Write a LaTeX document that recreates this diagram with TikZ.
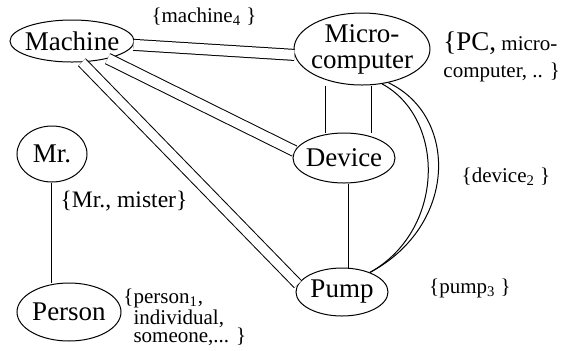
\documentclass[tikz,border=0pt]{standalone}
\usepackage{fontspec}
\setmainfont{Liberation Serif}
\usetikzlibrary{shapes}
\tikzset{%
  term/.style  = {draw, ellipse, align=center, inner xsep=-3pt, inner ysep=-1pt,
    font=\fontsize{13.5}{13}\selectfont}, % word
  gloss/.style = {inner sep=0pt, align=left,
    font=\fontsize{10.5}{9}\selectfont}, % synonym set
  syn/.style   = {double, double distance=5pt} % synonym link
}

\begin{document}
\begin{tikzpicture}[x=0.5pt, y=-0.5pt, line width=0.5pt]
  \useasboundingbox (0,0) rectangle (570,350);

  \draw node at (72,41) [term, minimum width=62pt, minimum height=21pt] (machine) {Machine};
  \draw node at (362,49) [term, minimum width=68pt, minimum height=36pt] (micro) {Micro-\\computer};
  \draw node at (344,158) [term, minimum width=51pt, minimum height=25pt] (device) {Device};
  \draw node at (342,292) [term, minimum width=46pt, minimum height=24pt] (pump) {Pump};
  \draw node at (52,154) [term, minimum width=35pt, minimum height=28pt] (mr) {Mr.};
  \draw node at (69,312) [term, minimum width=52pt, minimum height=29pt] (person) {Person};

  % synonym sets
  \draw node at (204,17) [gloss] (machinegl) {\{machine\textsubscript{4} \}};
  \draw node at (443,31) [gloss, anchor=north west, font=\fontsize{10.5}{13.5}\selectfont] (microgl)
    {{\fontsize{13.5}{13.5}\selectfont\{PC,} micro-\\computer, .. \}};
  \draw node at (506,177) [gloss] (devicegl) {\{device\textsubscript{2} \}};
  \draw node at (470,288) [gloss] (pumpgl) {\{pump\textsubscript{3} \}};
  \draw node at (124,201) [gloss, font=\fontsize{11.8}{11}\selectfont] (mrgl) {\{Mr., mister\}};
  \draw node at (123,288) [gloss, anchor=north west] (persongl)
    {\{person\textsubscript{1},\\\phantom{\{}individual,\\\phantom{\{}someone,... \}};

  \draw[syn] (machine) -- (micro.185);
  \draw[syn] (machine) -- (device.172);
  \draw[syn, double distance=4.5pt] (machine.-65) -- (pump.170);
  \draw ([xshift=-18pt]micro.south) -- ([xshift=-9pt]device.north);
  \draw ([xshift=5pt]micro.south) -- ([xshift=14pt]device.north);
  \draw (micro.-60) .. controls +(64,35) and +(75,-42) .. (pump.35);
  \draw (micro.-52) .. controls +(70,33) and +(88,-47) .. (pump.35);
  \draw ([xshift=2.5pt]device.south) -- ([xshift=3.5pt]pump.north);
  \draw (mr.south) -- (mr.south |- person.north);

\end{tikzpicture}
\end{document}
